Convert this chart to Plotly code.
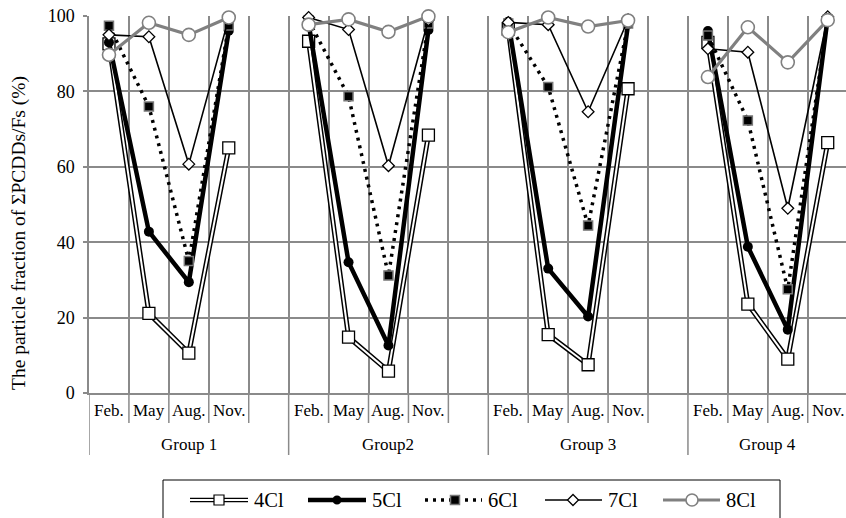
import plotly.graph_objects as go

groups = ["Group 1", "Group2", "Group 3", "Group 4"]
months = ["Feb.", "May", "Aug.", "Nov."]
series_names = ["4Cl", "5Cl", "6Cl", "7Cl", "8Cl"]

# values per group: [Feb, May, Aug, Nov]
cl4 = [[92.6, 21.1, 10.6, 65.0], [93.3, 14.8, 5.8, 68.4], [96.5, 15.5, 7.5, 80.7], [93.0, 23.6, 9.0, 66.4]]
cl5 = [[93.0, 42.8, 29.4, 96.1], [98.0, 34.7, 12.6, 96.3], [98.5, 33.0, 20.3, 97.8], [96.0, 38.8, 16.8, 99.6]]
cl6 = [[97.4, 76.0, 35.0, 97.5], [98.8, 78.7, 31.2, 98.0], [98.0, 81.2, 44.4, 98.0], [94.8, 72.3, 27.5, 99.0]]
cl7 = [[95.0, 94.5, 60.7, 99.5], [99.6, 96.4, 60.3, 99.0], [98.3, 97.7, 74.6, 99.0], [91.3, 90.4, 49.0, 99.8]]
cl8 = [[89.7, 98.2, 95.0, 99.6], [97.7, 99.1, 95.8, 99.9], [95.7, 99.6, 97.2, 98.8], [83.8, 97.0, 87.7, 98.9]]

SLOTS = 5  # four months + one blank slot per group
FONT = "Liberation Serif"
GRID = "#8a8a8a"

W, H = 846, 518
ML, MT, MB = 89, 16, 125
PW, PH = W - ML, H - MT - MB


def px_x(p):
    return (p - ML) / PW


def px_y(p):
    return (H - MB - p) / PH


fig = go.Figure()


def add_series(vals, line, marker, extra_under=None):
    xs, ys = [], []
    for g, row in enumerate(vals):
        for m, v in enumerate(row):
            xs.append(g * SLOTS + m)
            ys.append(v)
        xs.append(None)
        ys.append(None)
    if extra_under is not None:
        fig.add_trace(go.Scatter(x=xs, y=ys, mode="lines", line=extra_under,
                                 showlegend=False, hoverinfo="skip", cliponaxis=False))
    fig.add_trace(go.Scatter(x=xs, y=ys, mode="lines+markers", line=line, marker=marker,
                             showlegend=False, cliponaxis=False, connectgaps=False))


add_series(cl4, dict(color="white", width=2),
           dict(symbol="square", size=12, color="white", line=dict(color="black", width=1.3)),
           extra_under=dict(color="black", width=5))
add_series(cl5, dict(color="black", width=4.5),
           dict(symbol="circle", size=10, color="black"))
add_series(cl6, dict(color="black", width=3.5, dash="3px,5px"),
           dict(symbol="square", size=9, color="black", line=dict(color="#777", width=1.5)))
add_series(cl7, dict(color="black", width=1.6),
           dict(symbol="diamond", size=9, color="white", line=dict(color="black", width=1.3)))
add_series(cl8, dict(color="#808080", width=3.2),
           dict(symbol="circle", size=13, color="white", line=dict(color="#808080", width=1.6)))

x_lo = -0.5
x_hi = x_lo + PW / 39.93

boundaries = [k - 0.5 for k in range(0, 20)]

shapes = []
annotations = []

# separators under the axis
for g in range(len(groups)):
    base = g * SLOTS
    shapes.append(dict(type="line", xref="x", yref="paper", x0=base - 0.5, x1=base - 0.5,
                       y0=0, y1=px_y(455), line=dict(color=GRID, width=1.5)))
    for m in range(SLOTS - 1):
        xb = base + m + 0.5
        if xb < x_hi:
            shapes.append(dict(type="line", xref="x", yref="paper", x0=xb, x1=xb,
                               y0=0, y1=px_y(423), line=dict(color=GRID, width=1.5)))
    for m, mon in enumerate(months):
        annotations.append(dict(x=base + m, y=px_y(410), xref="x", yref="paper", text=mon,
                                xanchor="center", yanchor="middle", showarrow=False,
                                font=dict(family=FONT, size=17, color="black")))
    centre = base + (SLOTS - 1) / 2 if g < len(groups) - 1 else base + (len(months) - 1) / 2
    annotations.append(dict(x=centre, y=px_y(444), xref="x", yref="paper", text=groups[g],
                            xanchor="center", yanchor="middle", showarrow=False,
                            font=dict(family=FONT, size=17, color="black")))

# y-axis title
annotations.append(dict(x=px_x(19), y=px_y(233), xref="paper", yref="paper",
                        text="The particle fraction of \u03a3PCDDs/Fs (%)", textangle=-90,
                        xanchor="center", yanchor="middle",
                        showarrow=False, font=dict(family=FONT, size=19.5, color="black")))

# custom legend
shapes.append(dict(type="rect", xref="paper", yref="paper", x0=px_x(163), x1=px_x(780),
                   y0=px_y(530), y1=px_y(480), line=dict(color="black", width=1)))
ly = px_y(500)
leg = [
    ("4Cl", 190, 248, 219),
    ("5Cl", 308, 366, 337),
    ("6Cl", 425, 482, 455),
    ("7Cl", 545, 602, 573),
    ("8Cl", 663, 720, 692),
]
for name, a, b, c in leg:
    xa, xb = px_x(a), px_x(b)
    if name == "4Cl":
        shapes.append(dict(type="line", xref="paper", yref="paper", x0=xa, x1=xb, y0=ly, y1=ly,
                           line=dict(color="black", width=4.5)))
        shapes.append(dict(type="line", xref="paper", yref="paper", x0=xa, x1=xb, y0=ly, y1=ly,
                           line=dict(color="white", width=1.8)))
        shapes.append(dict(type="rect", xref="paper", yref="paper", xsizemode="pixel", ysizemode="pixel",
                           xanchor=px_x(c), yanchor=ly, x0=-5, x1=5, y0=-5, y1=5,
                           fillcolor="white", line=dict(color="black", width=1.2)))
    elif name == "5Cl":
        shapes.append(dict(type="line", xref="paper", yref="paper", x0=xa, x1=xb, y0=ly, y1=ly,
                           line=dict(color="black", width=4.5)))
        shapes.append(dict(type="circle", xref="paper", yref="paper", xsizemode="pixel", ysizemode="pixel",
                           xanchor=px_x(c), yanchor=ly, x0=-4.5, x1=4.5, y0=-4.5, y1=4.5,
                           fillcolor="black", line=dict(color="black", width=0)))
    elif name == "6Cl":
        shapes.append(dict(type="line", xref="paper", yref="paper", x0=xa, x1=xb, y0=ly, y1=ly,
                           line=dict(color="black", width=3.5, dash="3px,5px")))
        shapes.append(dict(type="rect", xref="paper", yref="paper", xsizemode="pixel", ysizemode="pixel",
                           xanchor=px_x(c), yanchor=ly, x0=-4.5, x1=4.5, y0=-4.5, y1=4.5,
                           fillcolor="black", line=dict(color="#777", width=1.5)))
    elif name == "7Cl":
        shapes.append(dict(type="line", xref="paper", yref="paper", x0=xa, x1=xb, y0=ly, y1=ly,
                           line=dict(color="black", width=1.6)))
        shapes.append(dict(type="path", xref="paper", yref="paper", xsizemode="pixel", ysizemode="pixel",
                           xanchor=px_x(c), yanchor=ly, path="M 0 -5.5 L 5.5 0 L 0 5.5 L -5.5 0 Z",
                           fillcolor="white", line=dict(color="black", width=1.3)))
    else:
        shapes.append(dict(type="line", xref="paper", yref="paper", x0=xa, x1=xb, y0=ly, y1=ly,
                           line=dict(color="#808080", width=3.2)))
        shapes.append(dict(type="circle", xref="paper", yref="paper", xsizemode="pixel", ysizemode="pixel",
                           xanchor=px_x(c), yanchor=ly, x0=-6, x1=6, y0=-6, y1=6,
                           fillcolor="white", line=dict(color="#808080", width=1.6)))
    annotations.append(dict(x=px_x(b + 4), y=ly, xref="paper", yref="paper", text=name,
                            xanchor="left", yanchor="middle", showarrow=False,
                            font=dict(family=FONT, size=20.5, color="black")))

fig.update_layout(
    width=W, height=H,
    margin=dict(l=ML, r=0, t=MT, b=MB, pad=0),
    paper_bgcolor="white", plot_bgcolor="white",
    showlegend=False,
    shapes=shapes,
    annotations=annotations,
    xaxis=dict(range=[x_lo, x_hi], tickvals=boundaries, showticklabels=False, ticks="",
               showgrid=True, gridcolor=GRID, gridwidth=1.5, zeroline=False,
               showline=True, linecolor=GRID, linewidth=1.5),
    yaxis=dict(range=[0, 100], tickvals=[0, 20, 40, 60, 80, 100], showgrid=True,
               gridcolor=GRID, gridwidth=1.5, zeroline=False, showline=True,
               linecolor=GRID, linewidth=1.5, ticks="outside", ticklen=4, tickcolor=GRID,
               tickwidth=1.5, ticklabelstandoff=5,
               tickfont=dict(family=FONT, size=18, color="black")),
)

fig.write_html("out.html")
